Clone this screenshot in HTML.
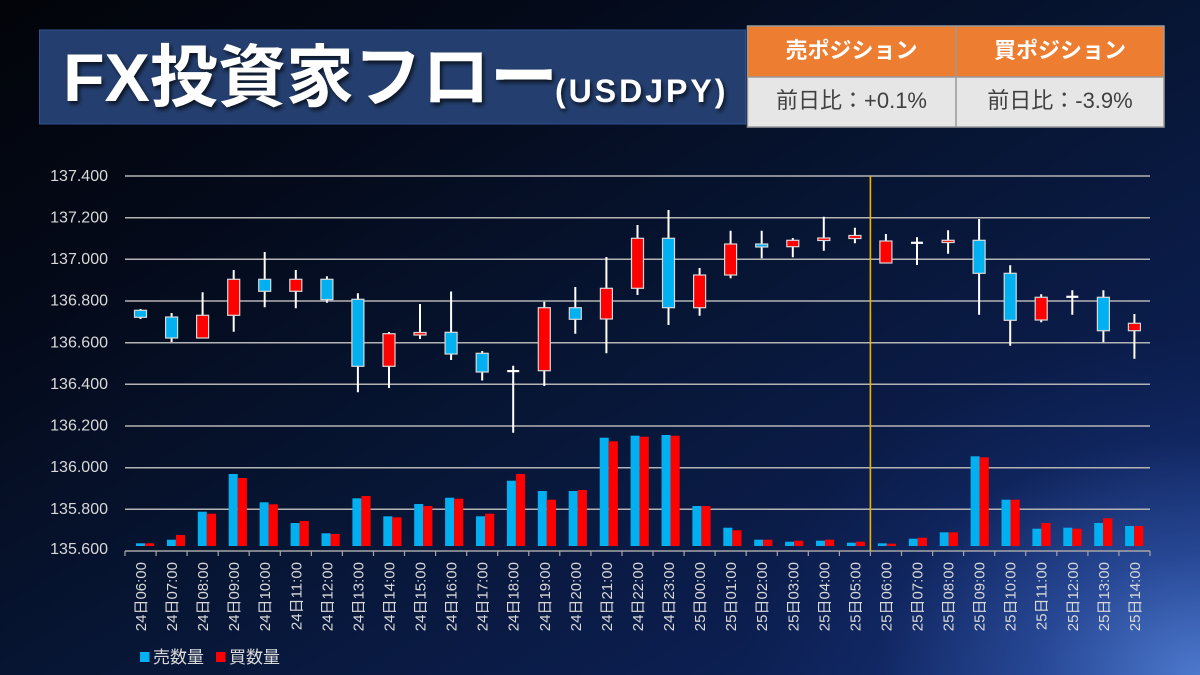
<!DOCTYPE html>
<html><head><meta charset="utf-8"><style>
html,body{margin:0;padding:0;width:1200px;height:675px;overflow:hidden;}
body{background:
radial-gradient(ellipse 460px 340px at 1200px 675px, rgba(80,125,210,0.95) 0%, rgba(55,95,185,0.6) 35%, rgba(30,60,140,0.2) 70%, rgba(20,40,110,0) 100%),
linear-gradient(150deg,#020409 0%,#040a1a 25%,#071533 50%,#0b1d4c 75%,#12296a 100%);
font-family:"Liberation Sans","Noto Sans CJK JP",sans-serif;}
svg{position:absolute;left:0;top:0;}
</style></head><body>
<svg width="1200" height="675" viewBox="0 0 1200 675" xmlns="http://www.w3.org/2000/svg" font-family="Liberation Sans, Noto Sans CJK JP, sans-serif">
<defs>
<filter id="sh" x="-5%" y="-20%" width="110%" height="140%"><feDropShadow dx="2" dy="3" stdDeviation="2" flood-color="#000" flood-opacity="0.7"/></filter>
</defs>
<rect x="39.5" y="30" width="706" height="94" fill="#243f6f" stroke="#2f5290" stroke-width="1"/>
<g filter="url(#sh)" fill="#fff" font-weight="bold">
<text x="63" y="101" font-size="68">FX投資家フロー</text>
<text x="555" y="102" font-size="32" letter-spacing="3">(USDJPY)</text>
</g>
<rect x="747.5" y="26" width="416.5" height="51" fill="#ed7d31"/>
<rect x="747.5" y="77" width="416.5" height="50" fill="#e6e6e6"/>
<g stroke="#9a9a9a" stroke-width="1.5" fill="none">
<rect x="747.5" y="26" width="416.5" height="101"/>
<line x1="747.5" y1="77" x2="1164" y2="77"/>
<line x1="956" y1="26" x2="956" y2="127"/>
</g>
<g font-size="22" text-anchor="middle">
<text x="851.5" y="58" fill="#fff" font-weight="bold">売ポジション</text>
<text x="1060" y="58" fill="#fff" font-weight="bold">買ポジション</text>
<text x="851.5" y="108" fill="#404040">前日比：+0.1%</text>
<text x="1060" y="108" fill="#404040">前日比：-3.9%</text>
</g>
<g stroke="#b4b4b4" stroke-width="1.5">
<line x1="125" y1="176" x2="1150" y2="176"/>
<line x1="125" y1="217.7" x2="1150" y2="217.7"/>
<line x1="125" y1="259.3" x2="1150" y2="259.3"/>
<line x1="125" y1="301" x2="1150" y2="301"/>
<line x1="125" y1="342.7" x2="1150" y2="342.7"/>
<line x1="125" y1="384.3" x2="1150" y2="384.3"/>
<line x1="125" y1="426" x2="1150" y2="426"/>
<line x1="125" y1="467.7" x2="1150" y2="467.7"/>
<line x1="125" y1="509.3" x2="1150" y2="509.3"/>
<line x1="125" y1="551" x2="1150" y2="551" stroke="#a6a6a6"/>
</g>
<path stroke="#a6a6a6" stroke-width="1.2" fill="none" d="M125 551V556M156.1 551V556M187.1 551V556M218.2 551V556M249.2 551V556M280.3 551V556M311.4 551V556M342.4 551V556M373.5 551V556M404.5 551V556M435.6 551V556M466.7 551V556M497.7 551V556M528.8 551V556M559.8 551V556M590.9 551V556M622 551V556M653 551V556M684.1 551V556M715.1 551V556M746.2 551V556M777.3 551V556M808.3 551V556M839.4 551V556M870.4 551V556M901.5 551V556M932.6 551V556M963.6 551V556M994.7 551V556M1025.7 551V556M1056.8 551V556M1087.9 551V556M1118.9 551V556M1150 551V556"/>
<g font-size="16" fill="#d9d9d9" text-anchor="end">
<text x="108" y="181">137.400</text>
<text x="108" y="222.5">137.200</text>
<text x="108" y="264">137.000</text>
<text x="108" y="305.5">136.800</text>
<text x="108" y="347.5">136.600</text>
<text x="108" y="389">136.400</text>
<text x="108" y="430.5">136.200</text>
<text x="108" y="472">136.000</text>
<text x="108" y="514">135.800</text>
<text x="108" y="554">135.600</text>
</g>
<line x1="870.4" y1="176" x2="870.4" y2="551" stroke="#f0b400" stroke-width="1.6"/>
<g fill="#00b0f0">
<rect x="136" y="543.3" width="9" height="2.7"/>
<rect x="166.9" y="539.7" width="9" height="6.3"/>
<rect x="197.8" y="511.7" width="9" height="34.3"/>
<rect x="228.7" y="474" width="9" height="72"/>
<rect x="259.6" y="502.3" width="9" height="43.7"/>
<rect x="290.6" y="523" width="9" height="23"/>
<rect x="321.5" y="533.3" width="9" height="12.7"/>
<rect x="352.4" y="498.3" width="9" height="47.7"/>
<rect x="383.3" y="516.3" width="9" height="29.7"/>
<rect x="414.2" y="504" width="9" height="42"/>
<rect x="445.1" y="497.7" width="9" height="48.3"/>
<rect x="476" y="516.3" width="9" height="29.7"/>
<rect x="506.9" y="480.7" width="9" height="65.3"/>
<rect x="537.8" y="491" width="9" height="55"/>
<rect x="568.7" y="491" width="9" height="55"/>
<rect x="599.7" y="437.7" width="9" height="108.3"/>
<rect x="630.6" y="435.7" width="9" height="110.3"/>
<rect x="661.5" y="435" width="9" height="111"/>
<rect x="692.4" y="506" width="9" height="40"/>
<rect x="723.3" y="527.7" width="9" height="18.3"/>
<rect x="754.2" y="539.7" width="9" height="6.3"/>
<rect x="785.1" y="541.7" width="9" height="4.3"/>
<rect x="816" y="540.7" width="9" height="5.3"/>
<rect x="846.9" y="542.7" width="9" height="3.3"/>
<rect x="877.8" y="543.3" width="9" height="2.7"/>
<rect x="908.8" y="538.7" width="9" height="7.3"/>
<rect x="939.7" y="532.3" width="9" height="13.7"/>
<rect x="970.6" y="456.3" width="9" height="89.7"/>
<rect x="1001.5" y="499.7" width="9" height="46.3"/>
<rect x="1032.4" y="528.7" width="9" height="17.3"/>
<rect x="1063.3" y="527.7" width="9" height="18.3"/>
<rect x="1094.2" y="523" width="9" height="23"/>
<rect x="1125.1" y="526" width="9" height="20"/>
</g>
<g fill="#ff0000">
<rect x="145" y="543.3" width="9.2" height="2.7"/>
<rect x="175.9" y="535" width="9.2" height="11"/>
<rect x="206.8" y="513.7" width="9.2" height="32.3"/>
<rect x="237.7" y="478" width="9.2" height="68"/>
<rect x="268.6" y="504.3" width="9.2" height="41.7"/>
<rect x="299.6" y="521" width="9.2" height="25"/>
<rect x="330.5" y="534" width="9.2" height="12"/>
<rect x="361.4" y="496" width="9.2" height="50"/>
<rect x="392.3" y="517.3" width="9.2" height="28.7"/>
<rect x="423.2" y="506" width="9.2" height="40"/>
<rect x="454.1" y="498.7" width="9.2" height="47.3"/>
<rect x="485" y="513.7" width="9.2" height="32.3"/>
<rect x="515.9" y="474" width="9.2" height="72"/>
<rect x="546.8" y="499.7" width="9.2" height="46.3"/>
<rect x="577.7" y="490" width="9.2" height="56"/>
<rect x="608.7" y="441.3" width="9.2" height="104.7"/>
<rect x="639.6" y="436.7" width="9.2" height="109.3"/>
<rect x="670.5" y="435.7" width="9.2" height="110.3"/>
<rect x="701.4" y="506" width="9.2" height="40"/>
<rect x="732.3" y="530.3" width="9.2" height="15.7"/>
<rect x="763.2" y="539.7" width="9.2" height="6.3"/>
<rect x="794.1" y="540.7" width="9.2" height="5.3"/>
<rect x="825" y="539.7" width="9.2" height="6.3"/>
<rect x="855.9" y="541.7" width="9.2" height="4.3"/>
<rect x="886.8" y="543.7" width="9.2" height="2.3"/>
<rect x="917.8" y="537.7" width="9.2" height="8.3"/>
<rect x="948.7" y="532.3" width="9.2" height="13.7"/>
<rect x="979.6" y="457.3" width="9.2" height="88.7"/>
<rect x="1010.5" y="499.7" width="9.2" height="46.3"/>
<rect x="1041.4" y="523" width="9.2" height="23"/>
<rect x="1072.3" y="528.7" width="9.2" height="17.3"/>
<rect x="1103.2" y="518.3" width="9.2" height="27.7"/>
<rect x="1134.1" y="526" width="9.2" height="20"/>
</g>
<path stroke="#ffffff" stroke-width="2" fill="none" d="M140.5 309V319M171.6 313V342M202.6 292.3V338M233.7 270V331.7M264.7 252V307.3M295.8 270V308.3M326.9 276.3V302.7M357.9 293.3V392.3M389 332V388M420 304V339M451.1 291.5V360M482.2 351V380.5M513.2 365.7V432.7M544.3 301.7V386M575.3 287V333.7M606.4 257V353.3M637.5 225V295M668.5 210V325M699.6 268V315.7M730.6 230.7V278.3M761.7 230.7V258.3M792.8 238V257.3M823.8 216.7V250.7M854.9 227.7V243.3M885.9 234V263M917 237.3V265M948.1 230.3V253.7M979.1 219V314.7M1010.2 265.3V345.7M1041.2 294.3V322.3M1072.3 290.3V314.7M1103.4 290.3V342.3M1134.4 314V358.7"/>
<g stroke="#d9d9d9" stroke-width="1.2">
<g fill="#00b0f0">
<rect x="134.5" y="310.3" width="12" height="7"/>
<rect x="165.6" y="317" width="12" height="21"/>
<rect x="258.7" y="279.3" width="12" height="12"/>
<rect x="320.9" y="279.3" width="12" height="20.4"/>
<rect x="351.9" y="299.3" width="12" height="67"/>
<rect x="445.1" y="332.3" width="12" height="21.7"/>
<rect x="476.2" y="353.3" width="12" height="18.7"/>
<rect x="569.3" y="307.7" width="12" height="11.6"/>
<rect x="662.5" y="238.3" width="12" height="69.4"/>
<rect x="755.7" y="244" width="12" height="3"/>
<rect x="973.1" y="240.3" width="12" height="33"/>
<rect x="1004.2" y="273.3" width="12" height="47"/>
<rect x="1097.4" y="297.3" width="12" height="33.4"/>
</g>
<g fill="#ff0000">
<rect x="196.6" y="315.3" width="12" height="22.7"/>
<rect x="227.7" y="279.3" width="12" height="36"/>
<rect x="289.8" y="279.3" width="12" height="12"/>
<rect x="383" y="333.7" width="12" height="32.6"/>
<rect x="414" y="332.5" width="12" height="2.5"/>
<rect x="538.3" y="307.7" width="12" height="63"/>
<rect x="600.4" y="288.3" width="12" height="30.7"/>
<rect x="631.5" y="238.3" width="12" height="50"/>
<rect x="693.6" y="275" width="12" height="32.7"/>
<rect x="724.6" y="244" width="12" height="31"/>
<rect x="786.8" y="240.3" width="12" height="6.4"/>
<rect x="817.8" y="238" width="12" height="2.5"/>
<rect x="848.9" y="235.5" width="12" height="3"/>
<rect x="879.9" y="241" width="12" height="22"/>
<rect x="942.1" y="240.3" width="12" height="2.2"/>
<rect x="1035.2" y="297.3" width="12" height="22.7"/>
<rect x="1128.4" y="323.3" width="12" height="7.4"/>
</g>
</g>
<g fill="#ffffff">
<rect x="507.2" y="370" width="12" height="2.2"/>
<rect x="911" y="241.7" width="12" height="2.2"/>
<rect x="1066.3" y="295.7" width="12" height="2.2"/>
</g>
<g font-size="15" fill="#d9d9d9" text-anchor="end">
<text transform="translate(146,562) rotate(-90)">24日06:00</text>
<text transform="translate(177.1,562) rotate(-90)">24日07:00</text>
<text transform="translate(208.1,562) rotate(-90)">24日08:00</text>
<text transform="translate(239.2,562) rotate(-90)">24日09:00</text>
<text transform="translate(270.2,562) rotate(-90)">24日10:00</text>
<text transform="translate(301.3,562) rotate(-90)">24日11:00</text>
<text transform="translate(332.4,562) rotate(-90)">24日12:00</text>
<text transform="translate(363.4,562) rotate(-90)">24日13:00</text>
<text transform="translate(394.5,562) rotate(-90)">24日14:00</text>
<text transform="translate(425.5,562) rotate(-90)">24日15:00</text>
<text transform="translate(456.6,562) rotate(-90)">24日16:00</text>
<text transform="translate(487.7,562) rotate(-90)">24日17:00</text>
<text transform="translate(518.7,562) rotate(-90)">24日18:00</text>
<text transform="translate(549.8,562) rotate(-90)">24日19:00</text>
<text transform="translate(580.8,562) rotate(-90)">24日20:00</text>
<text transform="translate(611.9,562) rotate(-90)">24日21:00</text>
<text transform="translate(643,562) rotate(-90)">24日22:00</text>
<text transform="translate(674,562) rotate(-90)">24日23:00</text>
<text transform="translate(705.1,562) rotate(-90)">25日00:00</text>
<text transform="translate(736.1,562) rotate(-90)">25日01:00</text>
<text transform="translate(767.2,562) rotate(-90)">25日02:00</text>
<text transform="translate(798.3,562) rotate(-90)">25日03:00</text>
<text transform="translate(829.3,562) rotate(-90)">25日04:00</text>
<text transform="translate(860.4,562) rotate(-90)">25日05:00</text>
<text transform="translate(891.4,562) rotate(-90)">25日06:00</text>
<text transform="translate(922.5,562) rotate(-90)">25日07:00</text>
<text transform="translate(953.6,562) rotate(-90)">25日08:00</text>
<text transform="translate(984.6,562) rotate(-90)">25日09:00</text>
<text transform="translate(1015.7,562) rotate(-90)">25日10:00</text>
<text transform="translate(1046.7,562) rotate(-90)">25日11:00</text>
<text transform="translate(1077.8,562) rotate(-90)">25日12:00</text>
<text transform="translate(1108.9,562) rotate(-90)">25日13:00</text>
<text transform="translate(1139.9,562) rotate(-90)">25日14:00</text>
</g>
<rect x="140" y="652" width="9.5" height="10" fill="#00b0f0"/>
<text x="153" y="663" font-size="17" fill="#d9d9d9">売数量</text>
<rect x="216" y="652" width="9.5" height="10" fill="#ff0000"/>
<text x="229" y="663" font-size="17" fill="#d9d9d9">買数量</text>
</svg>
</body></html>
